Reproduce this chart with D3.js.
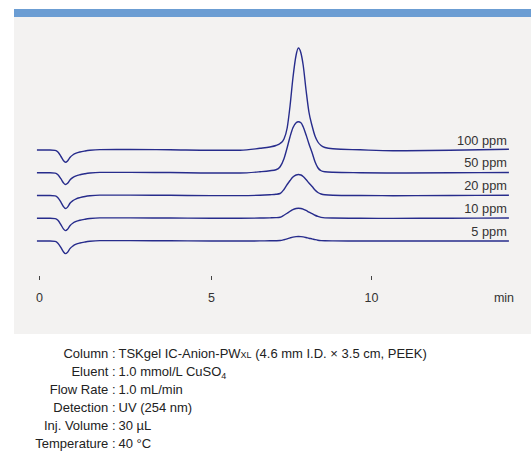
<!DOCTYPE html>
<html>
<head>
<meta charset="utf-8">
<script src="https://cdn.jsdelivr.net/npm/d3@7"></script>
<style>
  html, body { margin: 0; padding: 0; background: #ffffff; }
  svg { display: block; font-family: "Liberation Sans", Arial, Helvetica, sans-serif; }
</style>
</head>
<body>
<div id="chart"></div>
<script>
// ---- data ----
const seriesNames = ["100 ppm", "50 ppm", "20 ppm", "10 ppm", "5 ppm"];
const times = [-0.06,0.32,0.47,0.55,0.64,0.71,0.77,0.83,0.90,0.99,1.08,1.19,1.34,1.48,1.77,2.65,3.81,5.0,5.91,
  6.53,6.84,7.03,7.16,7.28,7.38,7.47,7.56,7.66,7.73,7.81,7.88,7.97,8.06,8.16,8.25,8.34,8.44,8.56,8.81,9.66,10.69,12.47,14.31];
const ppm100 = [0,0,-0.4,-2,-6.5,-10.5,-12.3,-11,-7.5,-4.8,-3.2,-2,-1,-0.3,0.4,0.5,0.2,-0.3,-0.2,
  1.7,3,4.5,6.5,11,22,44,72,95,102,97,85,60,38,24,14,8,4.5,2.5,1.2,0.2,-0.7,-0.3,0.7];
const ppm50 = [0,0,-0.4,-2,-6.2,-10,-11.8,-10.6,-7.2,-4.6,-3.1,-2,-1,-0.3,0.4,0.4,0.2,-0.2,-0.2,
  1,2,3,6,14,25,36,45,50,51,50,46,38,29,20,11,5,2,1,0.5,0,-0.3,0,0.3];
const ppm20 = [0,0,-0.4,-2.2,-6.8,-11,-13,-11.6,-7.8,-5,-3.3,-2.1,-1,-0.3,0.4,0.4,0.2,-0.1,-0.1,
  0.3,0.8,1.2,2,6,11,15,18.5,20.5,21,20.5,19,16,12.5,9,5.5,3,1.5,0.7,0.3,0,-0.2,0,0.3];
const ppm10 = [0,0,-0.4,-2.1,-6.6,-10.6,-12.4,-11.1,-7.5,-4.8,-3.2,-2,-1,-0.3,0.4,0.4,0.2,0,0,
  0.2,0.4,0.6,1,3,5,7,8.7,9.7,10,9.8,9.2,7.8,6.2,4.6,3,1.8,0.9,0.4,0.2,0,-0.1,0,0.2];
const ppm5 = [0,0,-0.4,-2.2,-6.7,-10.8,-12.6,-11.2,-7.6,-4.9,-3.2,-2,-1,-0.3,0.4,0.4,0.2,0,0,
  0.1,0.2,0.3,0.5,1.3,2.2,3.1,3.9,4.4,4.5,4.4,4.1,3.5,2.8,2.1,1.4,0.8,0.4,0.2,0.1,0,0,0,0];
const seriesValues = [ppm100, ppm50, ppm20, ppm10, ppm5];
const xTicks = [0, 5, 10];
const xUnit = "min";
const condLabels = ["Column", "Eluent", "Flow Rate", "Detection", "Inj. Volume", "Temperature"];
const condValues = [
  [["TSKgel IC-Anion-PW", 0], ["XL", 1], [" (4.6 mm I.D. \u00d7 3.5 cm, PEEK)", 0]],
  [["1.0 mmol/L CuSO", 0], ["4", 2]],
  [["1.0 mL/min", 0]],
  [["UV (254 nm)", 0]],
  [["30 \u00b5L", 0]],
  [["40 \u00b0C", 0]]
];

// ---- drawing ----
const W = 531, H = 464;
const svg = d3.select("#chart").append("svg").attr("width", W).attr("height", H);

svg.append("rect").attr("x", 14).attr("y", 17).attr("width", W - 14).attr("height", 317).attr("fill", "#f3f2f1");
svg.append("rect").attr("x", 14).attr("y", 9).attr("width", W - 14).attr("height", 8).attr("fill", "#6b9dd3");

const x = d3.scaleLinear().domain([0, 5, 10]).range([39, 211, 371]);
const base = d3.scalePoint().domain(seriesNames).range([150, 241]);
const amp = d3.scaleLinear().domain([0, 100]).range([0, 100]);

const lineColor = "#272c8c";
seriesNames.forEach((name, i) => {
  const pts = times.map((t, j) => ({ t: t, v: seriesValues[i][j] }));
  const line = d3.line()
    .x(d => x(d.t))
    .y(d => base(name) - amp(d.v))
    .curve(d3.curveMonotoneX);
  svg.append("path").datum(pts)
    .attr("d", line)
    .attr("fill", "none")
    .attr("stroke", lineColor)
    .attr("stroke-width", 1.4)
    .attr("stroke-linejoin", "round");
  svg.append("text")
    .attr("x", x(times[times.length - 1]) - 2)
    .attr("y", base(name) - 5.5)
    .attr("text-anchor", "end")
    .attr("font-size", 12.8)
    .attr("fill", "#333")
    .text(name);
});

const axis = d3.axisBottom(x).tickValues(xTicks).tickSize(4).tickPadding(13.5).tickFormat(d3.format("d"));
const gAx = svg.append("g").attr("transform", "translate(0,276)").call(axis);
gAx.select(".domain").remove();
gAx.selectAll(".tick line").attr("stroke", "#444");
gAx.selectAll(".tick text").attr("font-size", 12.5).attr("fill", "#333").attr("font-family", "Liberation Sans, Arial, sans-serif");

svg.append("text").attr("x", 504).attr("y", 302).attr("text-anchor", "middle")
  .attr("font-size", 12.5).attr("fill", "#333").text(xUnit);

// conditions
const condY = d3.scalePoint().domain(condLabels).range([358, 448]);
condLabels.forEach((lab, i) => {
  svg.append("text").attr("x", 115.5).attr("y", condY(lab)).attr("text-anchor", "end")
    .attr("font-size", 13).attr("fill", "#222").text(lab + " :");
  const t = svg.append("text").attr("x", 118.5).attr("y", condY(lab))
    .attr("font-size", 13).attr("fill", "#222");
  condValues[i].forEach(([s, kind]) => {
    const sp = t.append("tspan").text(s);
    if (kind === 1) sp.attr("font-size", 9);
    if (kind === 2) sp.attr("font-size", 9).attr("dy", 3);
  });
});
</script>
</body>
</html>
